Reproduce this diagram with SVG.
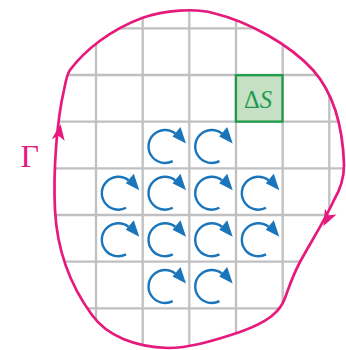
<svg xmlns="http://www.w3.org/2000/svg" xmlns:xlink="http://www.w3.org/1999/xlink" width="346" height="350" viewBox="0 0 346 350">
<style>
.grid line{stroke:#c0c0c3;stroke-width:2.3}
.curve{fill:none;stroke:#e6197c;stroke-width:2.7;stroke-linejoin:round}
.head{fill:#e6197c}
.rot path{fill:none;stroke:#1b75bb;stroke-width:2.4}
.rot polygon{fill:#1b75bb}
</style>
<defs>
<path id="gamma" d="M 55,210 C 53,170 57,120 64,90 C 66,80 67,74 70,70 C 85,50 110,30 142,18 C 165,10 195,8 213,13 C 250,22 290,45 313,70 C 335,95 343,130 344,165 C 344,180 340,190 334,200 C 325,220 312,240 300,262 C 292,277 288,290 285,298 C 280,312 268,322 240,332 C 210,342 188,348 168,348 C 135,347 107,336 92,315 C 70,285 57,250 55,210 Z"/>
<clipPath id="inside"><use xlink:href="#gamma"/></clipPath>
<g id="rot" class="rot">
<path d="M 7.75,14.57 A 16.5 16.5 0 1 1 10.2,-13"/>
<polygon points="7.5,-10 15.5,-19.5 21,-3"/>
</g>
</defs>
<rect width="346" height="350" fill="#ffffff"/>
<g id="grid" class="grid" clip-path="url(#inside)">
<line x1="96" y1="0" x2="96" y2="350"/>
<line x1="142.7" y1="0" x2="142.7" y2="350"/>
<line x1="189.3" y1="0" x2="189.3" y2="350"/>
<line x1="236" y1="0" x2="236" y2="350"/>
<line x1="282.7" y1="0" x2="282.7" y2="350"/>
<line x1="329.3" y1="0" x2="329.3" y2="350"/>
<line x1="0" y1="28.3" x2="346" y2="28.3"/>
<line x1="0" y1="75" x2="346" y2="75"/>
<line x1="0" y1="121.7" x2="346" y2="121.7"/>
<line x1="0" y1="168.3" x2="346" y2="168.3"/>
<line x1="0" y1="215" x2="346" y2="215"/>
<line x1="0" y1="261.7" x2="346" y2="261.7"/>
<line x1="0" y1="308.3" x2="346" y2="308.3"/>
</g>
<g id="dS">
<rect x="235.9" y="75.2" width="46.6" height="46.4" fill="#c6e0c6" stroke="#1f9a4a" stroke-width="2.3"/>
<text x="258" y="107.5" text-anchor="middle" font-family="'Liberation Serif', serif" font-size="24.5" fill="#1f9a4a">Δ<tspan font-style="italic">S</tspan></text>
</g>
<g id="circulations">
<use xlink:href="#rot" x="165" y="146.5"/>
<use xlink:href="#rot" x="211.7" y="146.5"/>
<use xlink:href="#rot" x="118.3" y="193.2"/>
<use xlink:href="#rot" x="165" y="193.2"/>
<use xlink:href="#rot" x="211.7" y="193.2"/>
<use xlink:href="#rot" x="258.3" y="193.2"/>
<use xlink:href="#rot" x="118.3" y="239.8"/>
<use xlink:href="#rot" x="165" y="239.8"/>
<use xlink:href="#rot" x="211.7" y="239.8"/>
<use xlink:href="#rot" x="258.3" y="239.8"/>
<use xlink:href="#rot" x="165" y="286.5"/>
<use xlink:href="#rot" x="211.7" y="286.5"/>
</g>
<g id="connectors">
<use xlink:href="#gamma" class="curve"/>
<polygon class="head" points="60.5,124 64.7,140.7 58.8,135.9 51.8,138.9"/>
<polygon class="head" points="323.5,226 324.9,208.8 328.9,215.3 336.5,214.6"/>
</g>
<g id="label">
<text x="20.5" y="166.5" font-family="'Liberation Serif', serif" font-size="32" fill="#e6197c">Γ</text>
</g>
</svg>
